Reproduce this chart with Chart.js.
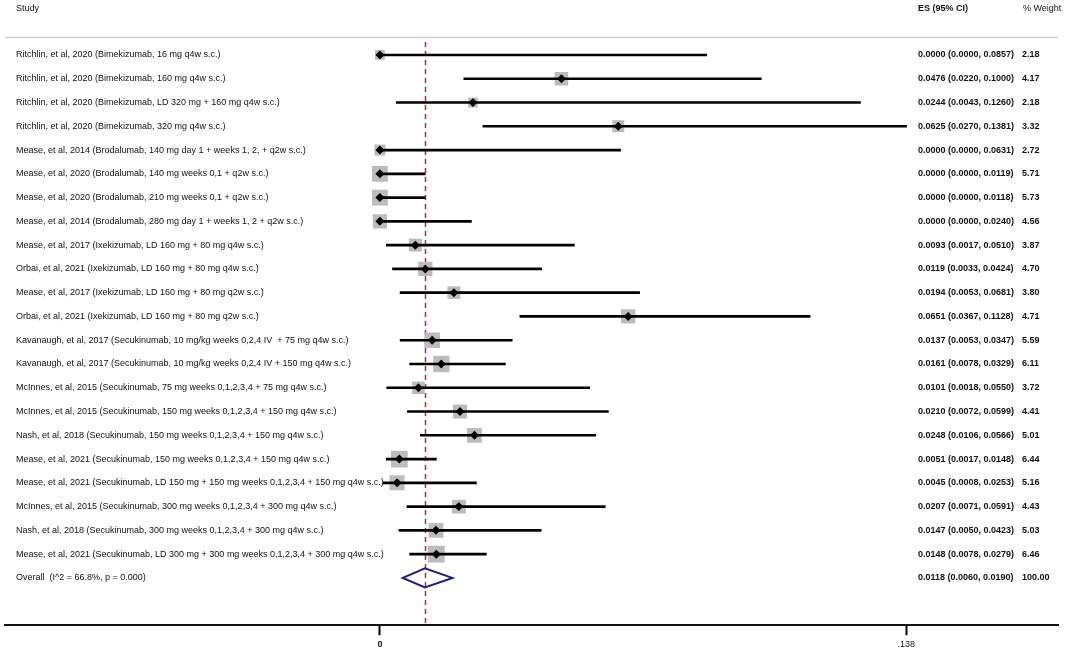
<!DOCTYPE html>
<html>
<head>
<meta charset="utf-8">
<title>Forest plot</title>
<script src="https://cdn.jsdelivr.net/npm/chart.js@4.4.1/dist/chart.umd.min.js"></script>
<style>
  html, body { margin: 0; padding: 0; background: #fff; }
  #wrap { position: relative; width: 1065px; height: 654px; }
</style>
</head>
<body>
<div id="wrap"><canvas id="forest"></canvas></div>
<script>
// Studies, in plotted order (top to bottom)
const studies = [
  'Ritchlin, et al, 2020 (Bimekizumab, 16 mg q4w s.c.)',
  'Ritchlin, et al, 2020 (Bimekizumab, 160 mg q4w s.c.)',
  'Ritchlin, et al, 2020 (Bimekizumab, LD 320 mg + 160 mg q4w s.c.)',
  'Ritchlin, et al, 2020 (Bimekizumab, 320 mg q4w s.c.)',
  'Mease, et al, 2014 (Brodalumab, 140 mg day 1 + weeks 1, 2, + q2w s.c.)',
  'Mease, et al, 2020 (Brodalumab, 140 mg weeks 0,1 + q2w s.c.)',
  'Mease, et al, 2020 (Brodalumab, 210 mg weeks 0,1 + q2w s.c.)',
  'Mease, et al, 2014 (Brodalumab, 280 mg day 1 + weeks 1, 2 + q2w s.c.)',
  'Mease, et al, 2017 (Ixekizumab, LD 160 mg + 80 mg q4w s.c.)',
  'Orbai, et al, 2021 (Ixekizumab, LD 160 mg + 80 mg q4w s.c.)',
  'Mease, et al, 2017 (Ixekizumab, LD 160 mg + 80 mg q2w s.c.)',
  'Orbai, et al, 2021 (Ixekizumab, LD 160 mg + 80 mg q2w s.c.)',
  'Kavanaugh, et al, 2017 (Secukinumab, 10 mg/kg weeks 0,2,4 IV  + 75 mg q4w s.c.)',
  'Kavanaugh, et al, 2017 (Secukinumab, 10 mg/kg weeks 0,2,4 IV + 150 mg q4w s.c.)',
  'McInnes, et al, 2015 (Secukinumab, 75 mg weeks 0,1,2,3,4 + 75 mg q4w s.c.)',
  'McInnes, et al, 2015 (Secukinumab, 150 mg weeks 0,1,2,3,4 + 150 mg q4w s.c.)',
  'Nash, et al, 2018 (Secukinumab, 150 mg weeks 0,1,2,3,4 + 150 mg q4w s.c.)',
  'Mease, et al, 2021 (Secukinumab, 150 mg weeks 0,1,2,3,4 + 150 mg q4w s.c.)',
  'Mease, et al, 2021 (Secukinumab, LD 150 mg + 150 mg weeks 0,1,2,3,4 + 150 mg q4w s.c.)',
  'McInnes, et al, 2015 (Secukinumab, 300 mg weeks 0,1,2,3,4 + 300 mg q4w s.c.)',
  'Nash, et al, 2018 (Secukinumab, 300 mg weeks 0,1,2,3,4 + 300 mg q4w s.c.)',
  'Mease, et al, 2021 (Secukinumab, LD 300 mg + 300 mg weeks 0,1,2,3,4 + 300 mg q4w s.c.)'
];
const effectSizes = [0.0000, 0.0476, 0.0244, 0.0625, 0.0000, 0.0000, 0.0000, 0.0000, 0.0093, 0.0119, 0.0194,
                     0.0651, 0.0137, 0.0161, 0.0101, 0.0210, 0.0248, 0.0051, 0.0045, 0.0207, 0.0147, 0.0148];
const ciLower = [0.0000, 0.0220, 0.0043, 0.0270, 0.0000, 0.0000, 0.0000, 0.0000, 0.0017, 0.0033, 0.0053,
                 0.0367, 0.0053, 0.0078, 0.0018, 0.0072, 0.0106, 0.0017, 0.0008, 0.0071, 0.0050, 0.0078];
const ciUpper = [0.0857, 0.1000, 0.1260, 0.1381, 0.0631, 0.0119, 0.0118, 0.0240, 0.0510, 0.0424, 0.0681,
                 0.1128, 0.0347, 0.0329, 0.0550, 0.0599, 0.0566, 0.0148, 0.0253, 0.0591, 0.0423, 0.0279];
const weights = [2.18, 4.17, 2.18, 3.32, 2.72, 5.71, 5.73, 4.56, 3.87, 4.70, 3.80,
                 4.71, 5.59, 6.11, 3.72, 4.41, 5.01, 6.44, 5.16, 4.43, 5.03, 6.46];

// Pooled estimate
const overallLabel = 'Overall  (I^2 = 66.8%, p = 0.000)';
const overallES = 0.0118;
const overallLower = 0.0060;
const overallUpper = 0.0190;
const overallWeight = 100.00;

// x axis ticks
const xTicks = [0, 0.138];

// styling
const FONT = '"Liberation Sans", Arial, Helvetica, sans-serif';
const FS = 9;
const overallRow = studies.length;

// text columns + header + pooled diamond + reference line
const forestDecor = {
  id: 'forestDecor',
  beforeDatasetsDraw(chart) {
    const { ctx, chartArea, scales: { x } } = chart;
    const xr = Math.round(x.getPixelForValue(overallES)) + 0.5;
    ctx.save();
    ctx.strokeStyle = '#d41f2b';
    ctx.lineWidth = 1.5;
    ctx.setLineDash([5, 4]);
    ctx.beginPath();
    ctx.moveTo(xr, 42);
    ctx.lineTo(xr, chartArea.bottom);
    ctx.stroke();
    ctx.restore();
  },
  afterDatasetsDraw(chart) {
    const { ctx, scales: { x, y } } = chart;
    ctx.save();

    // header
    ctx.fillStyle = '#111';
    ctx.textBaseline = 'middle';
    ctx.font = FS + 'px ' + FONT;
    ctx.fillText('Study', 16, 8.5);
    ctx.fillText('% Weight', 1023, 8.5);
    ctx.font = 'bold ' + FS + 'px ' + FONT;
    ctx.fillText('ES (95% CI)', 918, 8.5);

    ctx.strokeStyle = '#cccccc';
    ctx.lineWidth = 1.5;
    ctx.beginPath();
    ctx.moveTo(5, 37.5);
    ctx.lineTo(1058, 37.5);
    ctx.stroke();

    // rows
    const fmt = (es, lo, hi) => es.toFixed(4) + ' (' + lo.toFixed(4) + ', ' + hi.toFixed(4) + ')';
    studies.forEach((s, i) => {
      const py = y.getPixelForValue(i);
      ctx.font = FS + 'px ' + FONT;
      ctx.fillText(s, 16, py);
      ctx.font = 'bold ' + FS + 'px ' + FONT;
      ctx.fillText(fmt(effectSizes[i], ciLower[i], ciUpper[i]), 918, py);
      ctx.fillText(weights[i].toFixed(2), 1022, py);
    });
    const oy = y.getPixelForValue(overallRow);
    ctx.font = FS + 'px ' + FONT;
    ctx.fillText(overallLabel, 16, oy);
    ctx.font = 'bold ' + FS + 'px ' + FONT;
    ctx.fillText(fmt(overallES, overallLower, overallUpper), 918, oy);
    ctx.fillText(overallWeight.toFixed(2), 1022, oy);

    // pooled diamond
    const xl = x.getPixelForValue(overallLower);
    const xm = x.getPixelForValue(overallES);
    const xh = x.getPixelForValue(overallUpper);
    const hh = 9.5;
    ctx.strokeStyle = '#1a2080';
    ctx.lineWidth = 2;
    ctx.beginPath();
    ctx.moveTo(xl, oy);
    ctx.lineTo(xm, oy - hh);
    ctx.lineTo(xh, oy);
    ctx.lineTo(xm, oy + hh);
    ctx.closePath();
    ctx.stroke();

    ctx.restore();
  }
};

const rows = studies.map((s, i) => i);
const boxRadius = c => 6.6 * Math.sqrt(weights[c.dataIndex]) / Math.SQRT2;

new Chart(document.getElementById('forest'), {
  data: {
    datasets: [
      {
        // confidence intervals
        type: 'bar',
        indexAxis: 'y',
        data: rows.map(i => ({ y: i, x: [ciLower[i], ciUpper[i]] })),
        backgroundColor: '#000',
        borderWidth: 0,
        barThickness: 2,
        order: 2
      },
      {
        // weight boxes (area ~ weight)
        type: 'scatter',
        data: rows.map(i => ({ x: effectSizes[i], y: i })),
        pointStyle: 'rect',
        pointRadius: boxRadius,
        pointHoverRadius: boxRadius,
        backgroundColor: '#bcbcbc',
        borderWidth: 0,
        order: 3
      },
      {
        // point estimates
        type: 'scatter',
        data: rows.map(i => ({ x: effectSizes[i], y: i })),
        pointStyle: 'rectRot',
        pointRadius: 4.5,
        pointHoverRadius: 4.5,
        backgroundColor: '#000',
        borderWidth: 0,
        order: 1
      }
    ]
  },
  options: {
    responsive: true,
    maintainAspectRatio: false,
    animation: false,
    events: [],
    layout: { autoPadding: false, padding: { left: 5, right: 7, top: 0, bottom: 0 } },
    plugins: {
      legend: { display: false },
      tooltip: { enabled: false }
    },
    scales: {
      x: {
        type: 'linear',
        position: 'bottom',
        offset: false,
        min: -0.0983,
        max: 0.1778,
        afterBuildTicks: scale => { scale.ticks = xTicks.map(v => ({ value: v })); },
        ticks: {
          autoSkip: false,
          maxRotation: 0,
          color: '#111',
          padding: 4,
          font: c => ({ family: FONT, size: 9, weight: c.tick && c.tick.value === 0 ? 'bold' : 'normal' }),
          callback: v => v === 0 ? '0' : String(v).replace(/^0/, '')
        },
        grid: {
          display: true,
          offset: false,
          drawOnChartArea: false,
          drawTicks: true,
          tickLength: 10,
          tickWidth: 2,
          tickColor: '#000'
        },
        border: { display: true, color: '#111', width: 2 }
      },
      y: {
        type: 'linear',
        display: false,
        offset: false,
        reverse: true,
        min: -2.313,
        max: 23.99
      }
    }
  },
  plugins: [forestDecor]
});
</script>
</body>
</html>
